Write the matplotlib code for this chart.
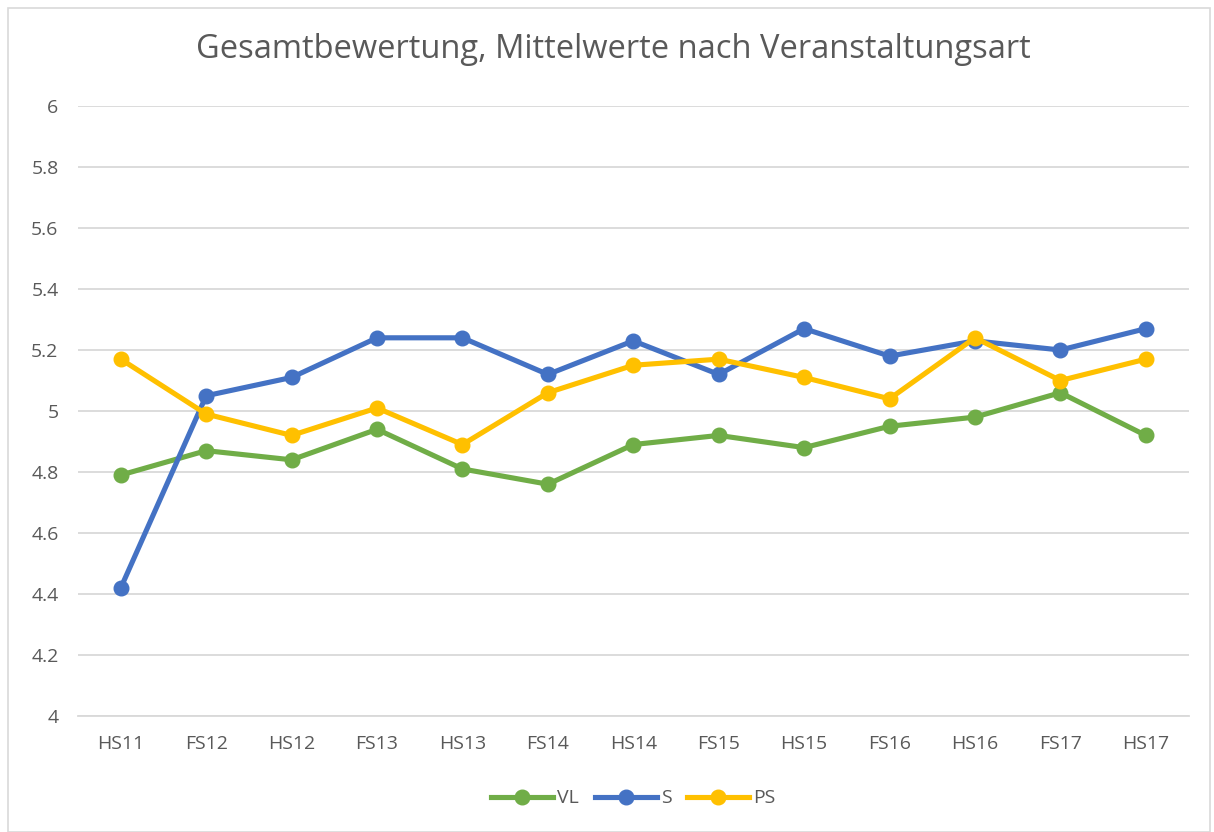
import numpy as np
import matplotlib
matplotlib.use('Agg')
import matplotlib.pyplot as plt
from matplotlib.patches import Rectangle

semesters = ["HS11", "FS12", "HS12", "FS13", "HS13", "FS14", "HS14",
             "FS15", "HS15", "FS16", "HS16", "FS17", "HS17"]
vl = [4.79, 4.87, 4.84, 4.94, 4.81, 4.76, 4.89, 4.92, 4.88, 4.95, 4.98, 5.06, 4.92]
s = [4.42, 5.05, 5.11, 5.24, 5.24, 5.12, 5.23, 5.12, 5.27, 5.18, 5.23, 5.20, 5.27]
ps = [5.17, 4.99, 4.92, 5.01, 4.89, 5.06, 5.15, 5.17, 5.11, 5.04, 5.24, 5.10, 5.17]

plt.rcParams['font.family'] = ['Open Sans', 'DejaVu Sans']
textcol = '#595959'

fig = plt.figure(figsize=(12.14, 8.32), dpi=100)
ax = fig.add_axes([0.0643, 0.1394, 0.9147, 0.7332])

x = np.arange(len(semesters))
ax.plot(x, vl, '-o', color='#70AD47', lw=3.7, ms=10.5, label='VL')
ax.plot(x, s, '-o', color='#4472C4', lw=3.7, ms=10.5, label='S')
ax.plot(x, ps, '-o', color='#FFC000', lw=3.7, ms=10.5, label='PS')

ax.set_xlim(-0.5, len(semesters) - 0.5)
ax.set_ylim(4, 6)
ax.set_yticks(np.arange(4, 6.01, 0.2))
ax.set_yticklabels(['4', '4.2', '4.4', '4.6', '4.8', '5', '5.2', '5.4', '5.6', '5.8', '6'])
ax.set_xticks(x)
ax.set_xticklabels(semesters)
ax.grid(axis='y', color='#D9D9D9', lw=1.3)
ax.set_axisbelow(True)
for sp in ['top', 'right', 'left']:
    ax.spines[sp].set_visible(False)
ax.spines['bottom'].set_color('#D9D9D9')
ax.spines['bottom'].set_linewidth(1.3)
ax.tick_params(length=0, labelsize=14, colors=textcol, pad=14)

fig.suptitle('Gesamtbewertung, Mittelwerte nach Veranstaltungsart',
             x=0.505, y=0.96, fontsize=23.5, color=textcol)

ax.legend(loc='center', bbox_to_anchor=(0.5, -0.135), ncol=3, frameon=False,
          fontsize=14, labelcolor=textcol, handlelength=3.2, handletextpad=0.2,
          columnspacing=0.8)

fig.patches.append(Rectangle((0.007, 0.0), 0.99, 0.99, transform=fig.transFigure,
                             fill=False, edgecolor='#D9D9D9', lw=1.2))

fig.savefig('out.png', dpi=100)
